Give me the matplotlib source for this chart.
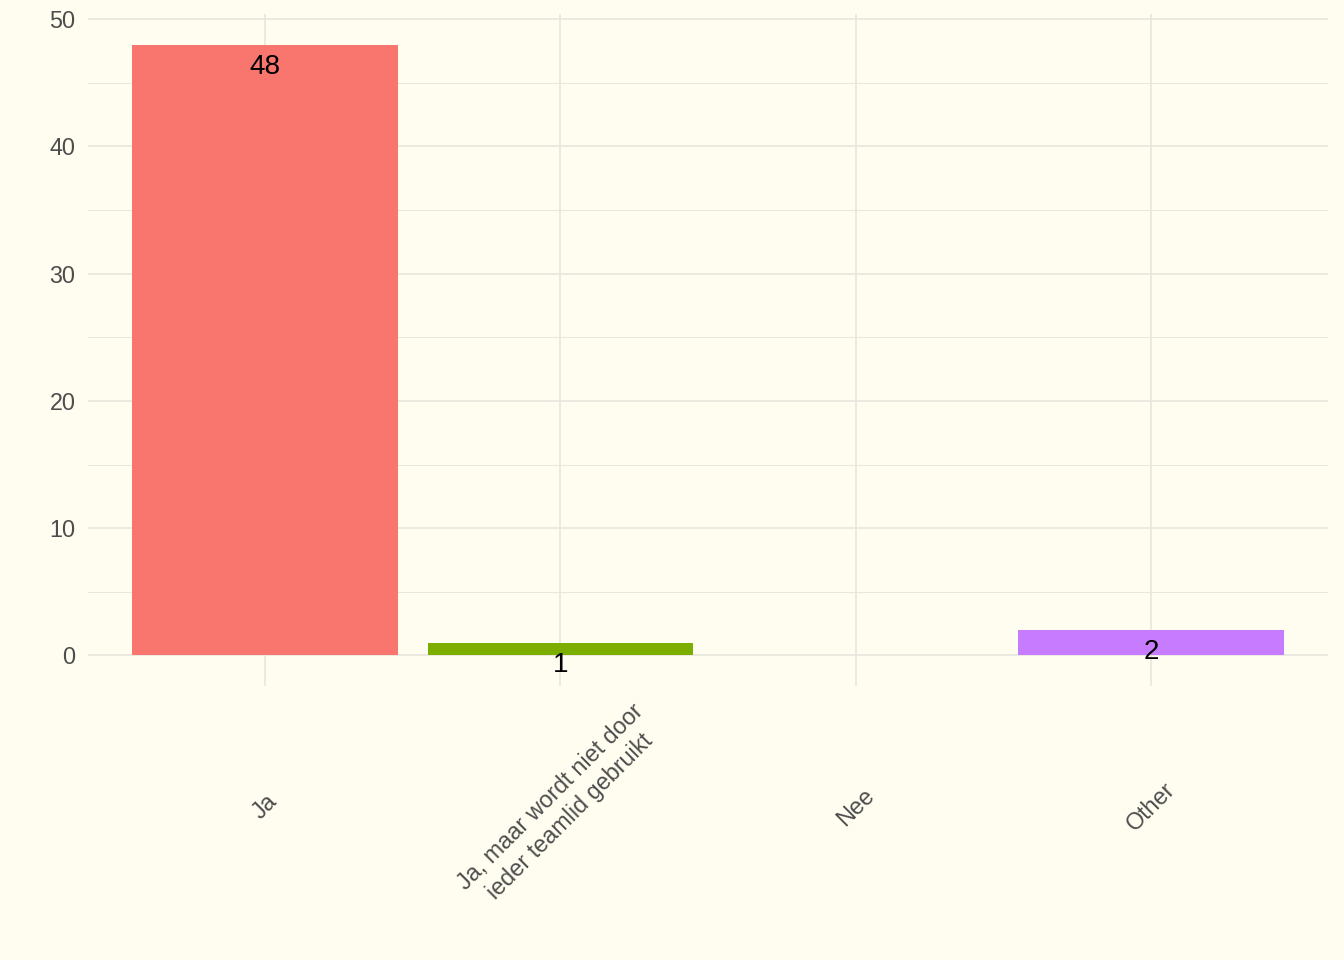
import matplotlib.pyplot as plt
from matplotlib.ticker import MultipleLocator

plt.rcParams['font.family'] = ['Liberation Sans', 'DejaVu Sans']

# data
categories = ['Ja', 'Ja, maar wordt niet door\nieder teamlid gebruikt', 'Nee', 'Other']
counts = [48, 1, 0, 2]
colors = ['#F8766D', '#7CAE00', '#00BFC4', '#C77CFF']

bg = '#FFFDF0'
grid_col = '#E9E7DD'

fig = plt.figure(figsize=(13.44, 9.6), dpi=100, facecolor=bg)
ax = fig.add_axes([0.0655, 0.2854, 0.9226, 0.7])
ax.set_facecolor(bg)

x = list(range(1, len(categories) + 1))
ax.bar(x, counts, width=0.9, color=colors, zorder=2)

# count labels just below the bar top
for xi, c in zip(x, counts):
    if c > 0:
        ax.annotate(str(c), (xi, c), xytext=(0, -16), textcoords='offset points',
                    ha='center', va='center', fontsize=20, color='black', zorder=3)

ax.set_xlim(0.4, 4.6)
ax.set_ylim(-2.4, 50.4)
ax.yaxis.set_major_locator(MultipleLocator(10))
ax.yaxis.set_minor_locator(MultipleLocator(5))
ax.set_xticks(x)
ax.set_xticklabels(categories, rotation=45, ha='center', va='center',
                   multialignment='center')

ax.grid(True, which='major', color=grid_col, linewidth=1.2, zorder=0)
ax.grid(True, which='minor', axis='y', color=grid_col, linewidth=0.7, zorder=0)
ax.set_axisbelow(True)

ax.tick_params(axis='both', which='both', length=0, labelsize=16.8, colors='#4D4D4D')
ax.tick_params(axis='x', pad=87)
ax.tick_params(axis='y', pad=9)
for s in ax.spines.values():
    s.set_visible(False)

fig.savefig('out.png', dpi=100, facecolor=bg)
